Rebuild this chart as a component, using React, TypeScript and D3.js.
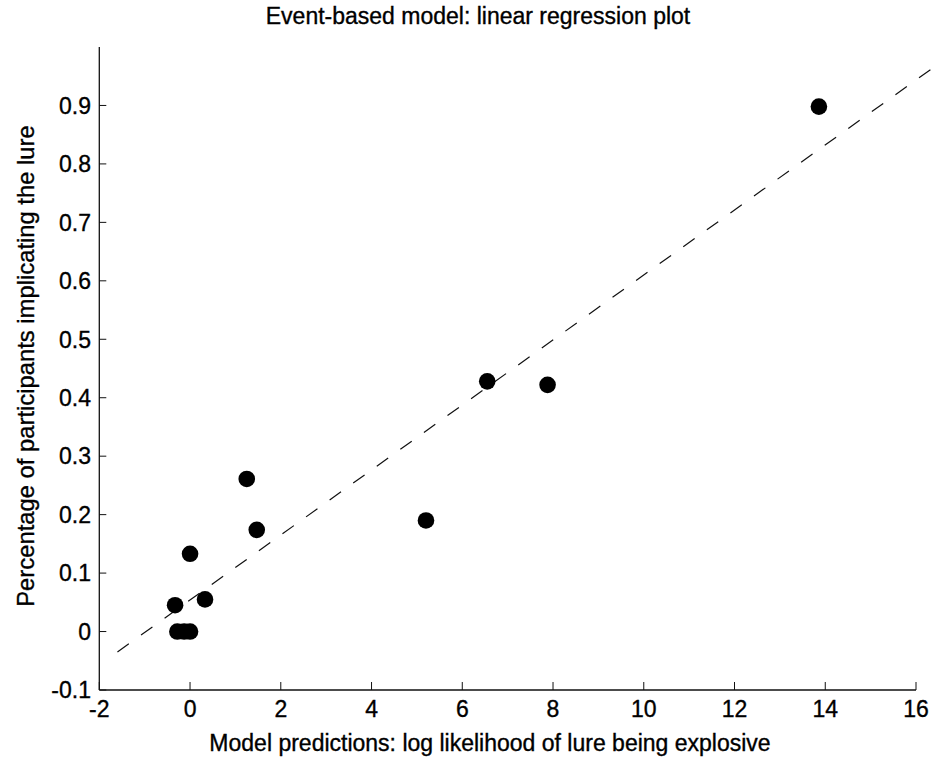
import React from "react";
import * as d3 from "d3";

const xValues = [13.86, 6.55, 7.88, 5.2, 1.25, 1.47, 0.0, -0.33, 0.33, -0.28, -0.13, 0.0];
const yValues = [0.898, 0.428, 0.422, 0.19, 0.261, 0.174, 0.133, 0.045, 0.055, 0.0, 0.0, 0.0];
const xTicks = [-2, 0, 2, 4, 6, 8, 10, 12, 14, 16];
const yTicks = [-0.1, 0, 0.1, 0.2, 0.3, 0.4, 0.5, 0.6, 0.7, 0.8, 0.9];
const fitSlope = 0.0556;
const fitIntercept = 0.054;
const fitRange = [-1.6, 16.5];

const W = 932;
const H = 757;
const FONT = "'Liberation Sans', Arial, Helvetica, sans-serif";
const TS = { stroke: "#000", strokeWidth: 0.35, fill: "#000" };

export default function App() {
  const x = d3.scaleLinear().domain([-2, 16]).range([99.3, 916]);
  const y = d3.scaleLinear().domain([-0.1, 1.0]).range([690, 47]);
  const line = d3
    .line<number>()
    .x((d) => x(d))
    .y((d) => y(fitIntercept + fitSlope * d));
  const fmt = (v: number) =>
    Math.abs(v) < 1e-9 ? "0" : d3.format(".1f")(v).replace("\u2212", "-");

  return (
    <svg
      width={W}
      height={H}
      style={{ position: "absolute", left: 0, top: 0, background: "#fff" }}
      fontFamily={FONT}
    >
      <rect x={0} y={0} width={W} height={H} fill="#fff" />
      <text x={478} y={24} textAnchor="middle" fontSize={23} {...TS}>
        Event-based model: linear regression plot
      </text>
      {/* axes */}
      <line x1={x(-2)} x2={x(-2)} y1={y(1.0)} y2={y(-0.1)} stroke="#111" strokeWidth={1.3} />
      <line x1={x(-2)} x2={x(16)} y1={y(-0.1)} y2={y(-0.1)} stroke="#111" strokeWidth={1.3} />
      {xTicks.map((t) => (
        <g key={"xt" + t}>
          <line x1={x(t)} x2={x(t)} y1={y(-0.1)} y2={y(-0.1) - 8} stroke="#111" strokeWidth={1} />
          <text x={x(t)} y={717} textAnchor="middle" fontSize={23} {...TS}>
            {String(t)}
          </text>
        </g>
      ))}
      {yTicks.map((t) => (
        <g key={"yt" + t}>
          <line x1={x(-2)} x2={x(-2) + 7} y1={y(t)} y2={y(t)} stroke="#111" strokeWidth={1} />
          <text x={91} y={y(t)} dy="0.36em" textAnchor="end" fontSize={23} {...TS}>
            {fmt(t)}
          </text>
        </g>
      ))}
      <text x={490} y={751} textAnchor="middle" fontSize={23} {...TS}>
        Model predictions: log likelihood of lure being explosive
      </text>
      <text
        transform={`translate(34,366) rotate(-90)`}
        textAnchor="middle"
        fontSize={23.8}
        {...TS}
      >
        Percentage of participants implicating the lure
      </text>
      {/* regression line */}
      <path
        d={line(fitRange) || ""}
        fill="none"
        stroke="#111"
        strokeWidth={1.2}
        strokeDasharray="14,15"
      />
      {/* points */}
      {xValues.map((v, i) => (
        <circle key={i} cx={x(v)} cy={y(yValues[i])} r={8.3} fill="#000" />
      ))}
    </svg>
  );
}
